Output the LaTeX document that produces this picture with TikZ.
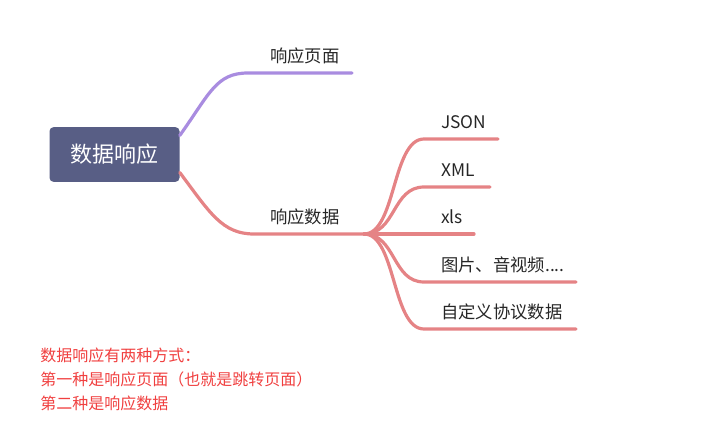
\documentclass[tikz,border=0pt]{standalone}
\usepackage{fontspec}
\setmainfont{Noto Sans CJK SC}
\usetikzlibrary{calc}

\definecolor{rootblue}{RGB}{88,94,133}
\definecolor{pagepurple}{RGB}{169,140,224}
\definecolor{datared}{RGB}{229,131,133}
\definecolor{notered}{RGB}{240,64,64}

\tikzset{
  rootbox/.style={draw=none, fill=rootblue, rounded corners=3, minimum width=97.5pt, minimum height=41pt,
    text=white, font=\fontsize{16.5}{18}\selectfont},
  lbl/.style={anchor=base west, inner sep=0, text=black!85, font=\fontsize{13}{15}\selectfont},
  branch/.style={line width=2.4pt, line cap=round},
}

\begin{document}
\begin{tikzpicture}[x=0.75pt,y=0.75pt,yscale=-1,xscale=1]
	\useasboundingbox (0,0) rectangle (711,435);

	%root
	\node[rootbox] (root) at (114.5,154.5) {数据响应};

	%first branch: page
	\coordinate (pageA) at ($(root.east)+(0,-19)$);
	\coordinate (pageB) at (248,73);
	\coordinate (pageC) at (352,73);
	\draw [branch, color=pagepurple] (pageA) .. controls +(30,-42) and +(-32,0) .. (pageB) -- (pageC);
	\node[lbl] (page) at (270,63) {响应页面};

	%second branch: data
	\coordinate (dataA) at ($(root.east)+(0,18)$);
	\coordinate (dataB) at (254,234);
	\coordinate (hub) at (364,234);
	\draw [branch, color=datared] (dataA) .. controls +(30,40) and +(-32,0) .. (dataB) -- (hub);
	\node[lbl] (data) at (270,223) {响应数据};

	%data kinds
	\coordinate (jsonB) at (424,139);  \coordinate (jsonC) at (498,139);
	\coordinate (xmlB) at (424,187);   \coordinate (xmlC) at (490,187);
	\coordinate (xlsB) at (424,234);   \coordinate (xlsC) at (474,234);
	\coordinate (mediaB) at (424,282); \coordinate (mediaC) at (576,282);
	\coordinate (selfB) at (424,329);  \coordinate (selfC) at (576,329);
	\draw [branch, color=datared] (hub) .. controls +(32,0) and +(-32,0) .. (jsonB) -- (jsonC);
	\draw [branch, color=datared] (hub) .. controls +(32,0) and +(-32,0) .. (xmlB) -- (xmlC);
	\draw [branch, color=datared] (hub) -- (xlsB) -- (xlsC);
	\draw [branch, color=datared] (hub) .. controls +(32,0) and +(-32,0) .. (mediaB) -- (mediaC);
	\draw [branch, color=datared] (hub) .. controls +(32,0) and +(-32,0) .. (selfB) -- (selfC);
	\node[lbl] (json) at (441,128) {JSON};
	\node[lbl] (xml) at (441,176) {XML};
	\node[lbl] (xls) at (441,223) {xls};
	\node[lbl] (media) at (441,271) {图片、音视频....};
	\node[lbl] (self) at (441,318) {自定义协议数据};

	%note
	\node[anchor=north west, align=left, inner sep=0, text=notered, font=\fontsize{12}{18}\selectfont] (note) at (40,348)
		{数据响应有两种方式：\\第一种是响应页面（也就是跳转页面）\\第二种是响应数据};
\end{tikzpicture}
\end{document}
